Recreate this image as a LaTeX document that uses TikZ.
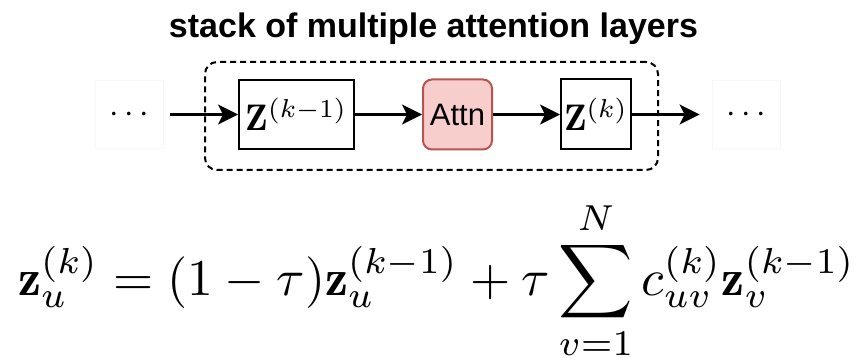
\RequirePackage{fix-cm}
\documentclass[tikz,border=0pt]{standalone}
\usepackage{graphicx}
\usepackage{fontspec}
\newfontfamily\arialf{Liberation Sans}
\usetikzlibrary{arrows.meta}
\definecolor{attnfill}{HTML}{F8CECC}
\definecolor{attndraw}{HTML}{B85450}
\begin{document}
\begin{tikzpicture}[x=1pt,y=-1pt,
  zbox/.style={draw, line width=2pt, inner sep=0pt},
  dotbox/.style={draw=black!3, line width=0.8pt, inner sep=0pt, minimum width=68pt, minimum height=68pt, font=\fontsize{34}{40}\selectfont},
  attnbox/.style={draw=attndraw, fill=attnfill, line width=2pt, rounded corners=9pt, inner sep=0pt, minimum width=69pt, minimum height=70pt, font=\arialf\fontsize{31}{36}\selectfont},
  stackbox/.style={draw, line width=2pt, dash pattern=on 6pt off 4pt, rounded corners=12pt, minimum width=453pt, minimum height=108pt, inner sep=0pt},
  arr/.style={-{Stealth[length=20pt,width=20pt,inset=5pt]}, line width=2.2pt}
]
\useasboundingbox (0,0) rectangle (864,358);
\node[anchor=base, font=\arialf\bfseries\fontsize{34}{40}\selectfont] (title) at (433.5,37.5) {stack of multiple attention layers};
\node[stackbox] (stack) at (431.5,116) {};
\node[dotbox] (ld) at (129,114.5) {$\cdots$};
\node[zbox, minimum width=115pt, minimum height=69pt] (z1) at (296.5,114.5) {\scalebox{3.7}{$\mathbf{Z}^{(k-1)}$}};
\node[attnbox] (at) at (457.5,114.5) {Attn};
\node[zbox, minimum width=70pt, minimum height=70pt] (z2) at (596,114.5) {\scalebox{3.7}{$\mathbf{Z}^{(k)}$}};
\node[dotbox] (rd) at (746,114.5) {$\cdots$};
\draw[arr] ([xshift=7pt]ld.east) -- (z1.west);
\draw[arr] (z1) -- (at);
\draw[arr] (at) -- (z2);
\draw[arr] (z2.east) -- ([xshift=-12pt]rd.west);
\node[anchor=base west, inner sep=0pt] (eq) at (18,295) {\resizebox{837pt}{!}{$\displaystyle \mathbf{z}_u^{(k)} = (1-\tau)\mathbf{z}_u^{(k-1)} + \tau\sum_{v=1}^{N} c_{uv}^{(k)}\mathbf{z}_v^{(k-1)}$}};
\end{tikzpicture}
\end{document}
